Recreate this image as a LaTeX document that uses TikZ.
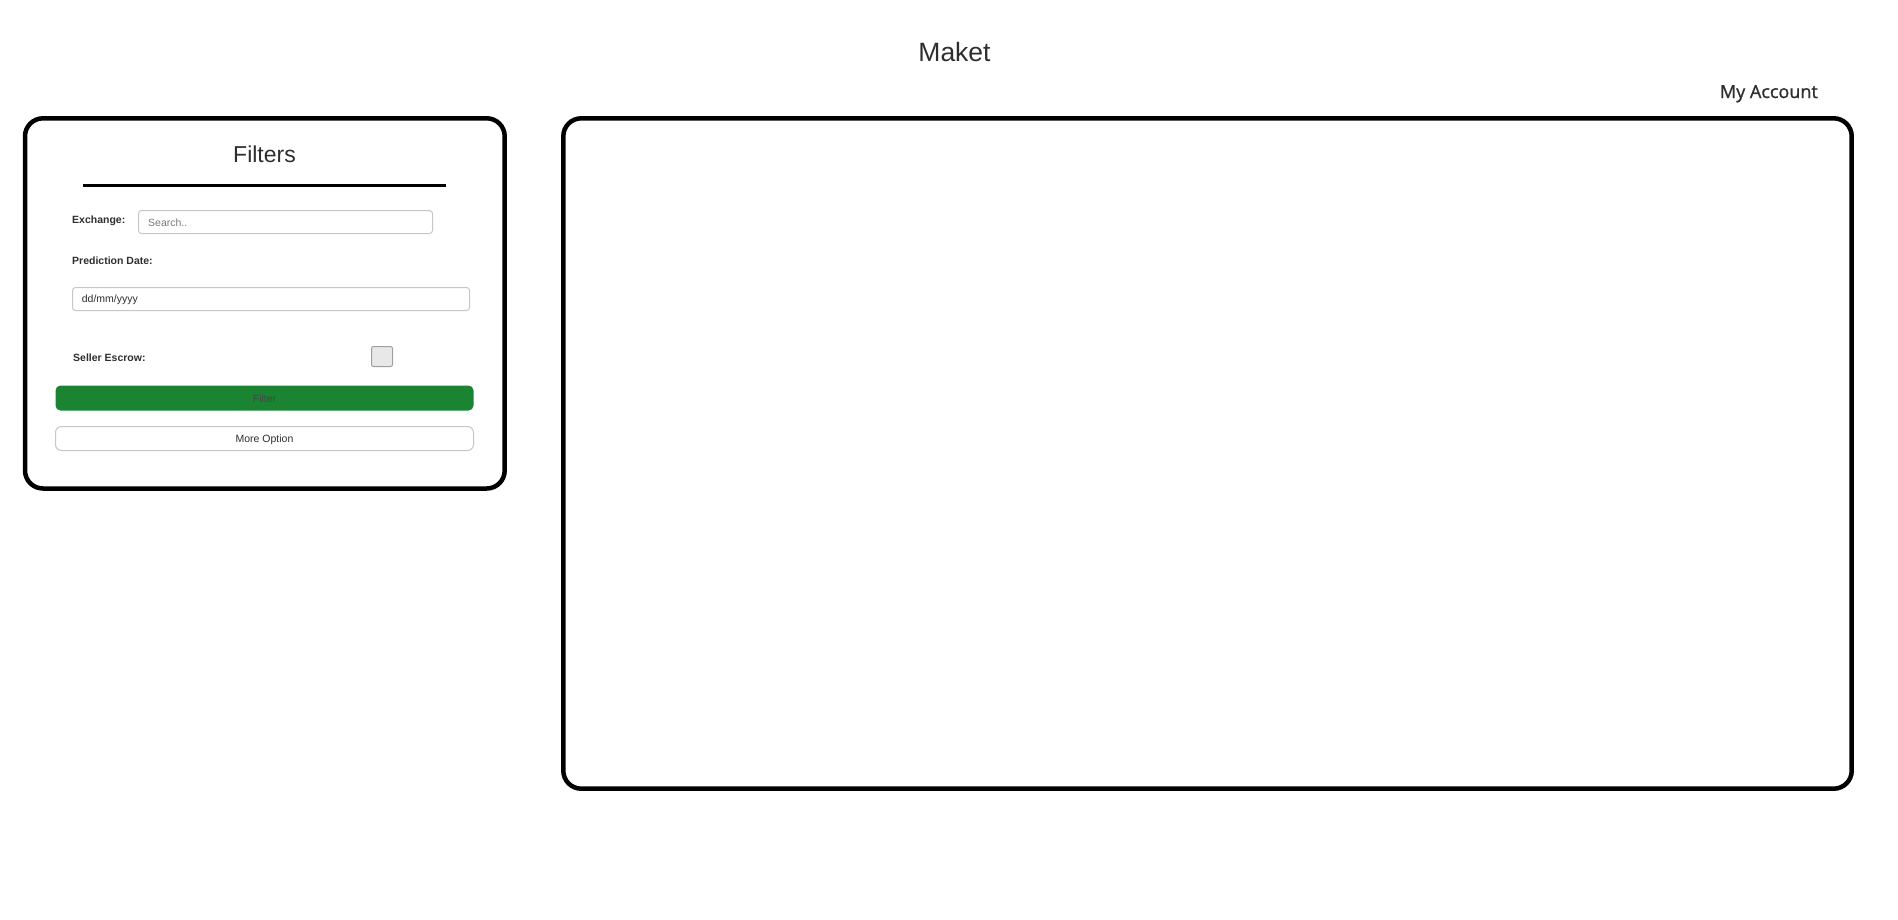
\documentclass[tikz,border=0pt]{standalone}
\usepackage{fontspec}
\setmainfont{Liberation Sans}
\newfontfamily\accountfont[FakeBold=1.2]{Open Sans}
\usepackage{xcolor}
\usepackage{tikz}

\definecolor{textgray}{HTML}{2E2E2E}
\definecolor{btngreen}{HTML}{1A8432}
\definecolor{boxgray}{HTML}{C6C6C6}
\definecolor{holdergray}{HTML}{7A7A7A}

\begin{document}
\begin{tikzpicture}[x=1pt,y=-1pt,
  panel/.style={line width=4.5pt, rounded corners=18pt},
  field/.style={draw=boxgray, line width=1pt, rounded corners=3pt},
  label/.style={anchor=base west, inner sep=0pt, text=textgray, font=\fontsize{10.5}{12}\selectfont\bfseries},
  small/.style={inner sep=0pt, font=\fontsize{10.5}{12}\selectfont}]

\useasboundingbox (0,0) rectangle (1898,919);

\node [anchor=base, inner sep=0pt, text=textgray, font=\fontsize{26.5}{30}\selectfont] (maket) at (954.5,61) {Maket};
\node [anchor=base east, inner sep=0pt, text=textgray, font=\accountfont\fontsize{18}{20}\selectfont] (account) at (1818,98) {My Account};

\draw [panel] (25,118.3) rectangle (504.7,488.5);
\draw [panel] (563.3,118.3) rectangle (1851.7,788.7);

\node [anchor=base, inner sep=0pt, text=textgray, font=\fontsize{23}{26}\selectfont] (filters) at (264.5,162.7) {Filters};
\draw [line width=2.7pt] (83,185.3) -- (446,185.3);

\node [label] (exchange) at (72,223) {Exchange:};
\draw [field] (138.5,210.5) rectangle (432.5,233.5);
\node [small, anchor=base west, text=holdergray] (search) at (148,226.7) {Search..};

\node [label] (date) at (72,264) {Prediction Date:};
\draw [field] (72.5,287.5) rectangle (469.5,310.5);
\node [small, anchor=base west, text=textgray] (ddmm) at (81.7,302.7) {dd/mm/yyyy};

\node [label] (escrow) at (73,361.7) {Seller Escrow:};
\draw [draw=gray!75, fill=gray!18, line width=1pt, rounded corners=2pt] (371.5,346.5) rectangle (392.5,366.5);

\fill [btngreen, rounded corners=5pt] (55.5,385.5) rectangle (473.5,410.5);
\node [small, anchor=base, text=gray!55!black] (filter) at (264.5,402) {Filter};

\draw [draw=boxgray, line width=1pt, rounded corners=6pt] (55.5,426.5) rectangle (473.5,450.5);
\node [small, anchor=base, text=textgray] (more) at (264.5,442.5) {More Option};

\end{tikzpicture}
\end{document}
